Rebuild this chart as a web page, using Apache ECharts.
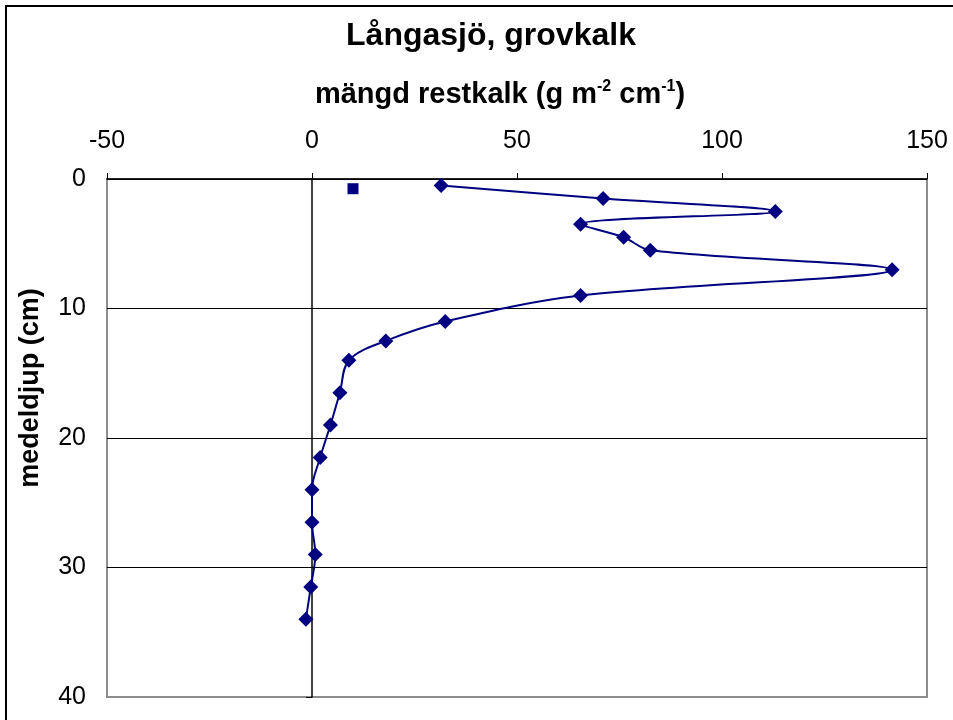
<!DOCTYPE html>
<html>
<head>
<meta charset="utf-8">
<script src="https://cdn.jsdelivr.net/npm/echarts@6/dist/echarts.min.js"></script>
<style>
html,body{margin:0;padding:0;background:#fff;}
#c{width:953px;height:720px;}
</style>
</head>
<body>
<div id="c"></div>
<script>
// Data
const amount = [31.5, 71, 113, 65.5, 76, 82.5, 141.5, 65.5, 32.5, 18, 9, 6.8, 4.5, 2, 0, 0, 0.8, -0.3, -1.5];
const depth  = [0.5, 1.5, 2.5, 3.5, 4.5, 5.5, 7, 9, 11, 12.5, 14, 16.5, 19, 21.5, 24, 26.5, 29, 31.5, 34];
const extraAmount = [10];
const extraDepth = [0.75];
const xTicks = [-50, 0, 50, 100, 150];
const yTicks = [0, 10, 20, 30, 40];

const FONT = "'Liberation Sans', Arial, sans-serif";
const NAVY = '#000080';

const chart = echarts.init(document.getElementById('c'), null, {renderer: 'canvas'});

const lineData = amount.map((v, i) => [v, depth[i]]);
const extraData = extraAmount.map((v, i) => [v, extraDepth[i]]);

const option = {
  backgroundColor: '#fff',
  animation: false,
  title: {
    text: 'Långasjö, grovkalk',
    left: 486,
    textAlign: 'center',
    top: 15,
    textStyle: {fontFamily: FONT, fontWeight: 'bold', fontSize: 32, color: '#000'}
  },
  graphic: [
    {type: 'rect', shape: {x: 6, y: 6, width: 1000, height: 1000},
     style: {fill: 'none', stroke: '#000', lineWidth: 2}, silent: true, z: -1},
    {type: 'text', x: 31, y: 388, rotation: Math.PI / 2,
     style: {text: 'medeldjup (cm)', font: "bold 27px 'Liberation Sans', Arial, sans-serif",
             fill: '#000', textAlign: 'center', textVerticalAlign: 'middle'}}
  ],
  grid: {
    left: 107, right: 26, top: 179, bottom: 23,
    show: true, borderColor: '#8c8c8c', borderWidth: 2, backgroundColor: 'transparent'
  },
  xAxis: {
    type: 'value', position: 'top',
    min: xTicks[0], max: xTicks[xTicks.length - 1], interval: 50,
    name: '{a|mängd restkalk (g m}{s|-2}{a| cm}{s|-1}{a|)}',
    nameLocation: 'middle', nameGap: 68,
    nameTextStyle: {
      padding: [0, 34, 0, 0],
      rich: {
        a: {fontFamily: FONT, fontWeight: 'bold', fontSize: 29, color: '#000'},
        s: {fontFamily: FONT, fontWeight: 'bold', fontSize: 16, color: '#000', padding: [0, 0, 16, 0]}
      }
    },
    axisLine: {show: true, onZero: false, lineStyle: {color: '#000', width: 1.5}},
    axisTick: {show: true, length: 6, inside: false, lineStyle: {color: '#000'}},
    axisLabel: {fontFamily: FONT, fontSize: 25, color: '#000', margin: 25},
    splitLine: {show: false}
  },
  yAxis: [
    {
      type: 'value', inverse: true, position: 'left',
      min: yTicks[0], max: yTicks[yTicks.length - 1], interval: 10,
      axisLine: {show: false}, axisTick: {show: false},
      axisLabel: {fontFamily: FONT, fontSize: 25, color: '#000', margin: 21, padding: [7, 0, 0, 0]},
      splitLine: {show: true, lineStyle: {color: ['#000', '#000', '#000', '#000', 'rgba(0,0,0,0)'], width: 1}}
    },
    {
      type: 'value', inverse: true, position: 'left',
      min: yTicks[0], max: yTicks[yTicks.length - 1], interval: 10,
      axisLine: {show: true, onZero: true, onZeroAxisIndex: 0, lineStyle: {color: '#000', width: 1.5}},
      axisTick: {show: true, length: 6, inside: false, lineStyle: {color: '#000'}},
      axisLabel: {show: false},
      splitLine: {show: false}
    }
  ],
  series: [
    {
      type: 'line', xAxisIndex: 0, yAxisIndex: 0,
      data: lineData,
      smooth: 0.35,
      symbol: 'diamond', symbolSize: 15,
      itemStyle: {color: NAVY, opacity: 1},
      lineStyle: {color: NAVY, width: 2},
      z: 5
    },
    {
      type: 'scatter', xAxisIndex: 0, yAxisIndex: 0,
      data: extraData,
      symbol: 'rect', symbolSize: 11,
      itemStyle: {color: NAVY, opacity: 1},
      z: 5
    }
  ]
};
chart.setOption(option);
</script>
</body>
</html>
